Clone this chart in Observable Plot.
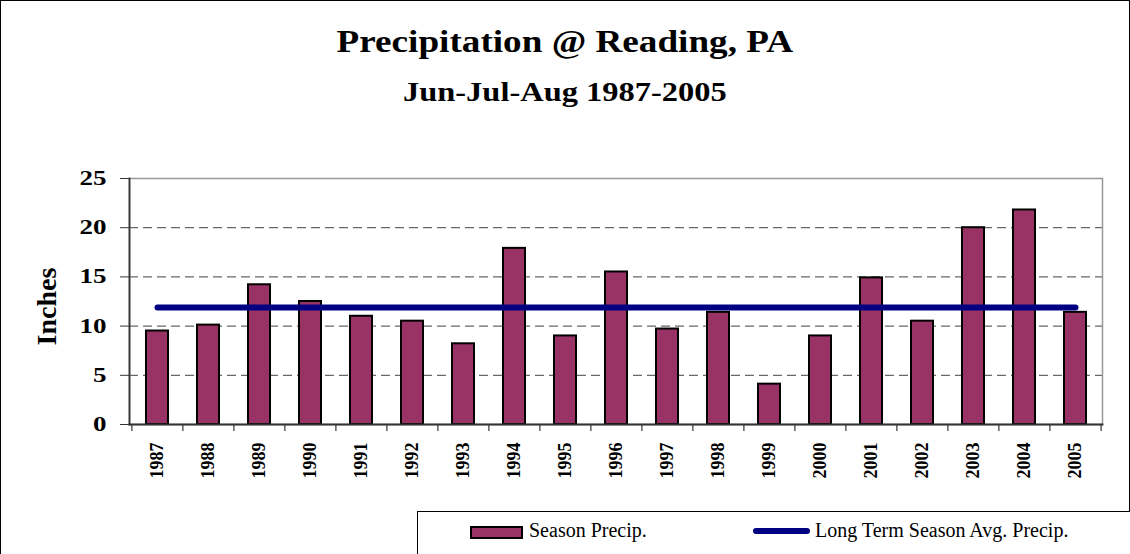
<!DOCTYPE html>
<html>
<head>
<meta charset="utf-8">
<script src="https://cdn.jsdelivr.net/npm/d3@7"></script>
<script src="https://cdn.jsdelivr.net/npm/@observablehq/plot@0.6"></script>
<style>
  html, body { margin: 0; padding: 0; background: #fff; }
  #wrap { position: relative; width: 1130px; height: 554px; overflow: hidden; background: #fff;
          font-family: "Liberation Serif", "Times New Roman", serif; box-sizing: border-box; }
  #border { position: absolute; left: 0; top: 0; width: 1128px; height: 600px; border: 1px solid #000; }
  .title { position: absolute; left: 0; width: 1130px; text-align: center; font-weight: bold; line-height: 1;
           transform: scaleX(1.18); transform-origin: 566px 0; color: #000; white-space: nowrap; }
  #chart { position: absolute; left: 0; top: 0; }
  #legend { position: absolute; left: 417px; top: 511px; width: 800px; height: 100px; border: 1px solid #000; background: #fff; }
  .lg { position: absolute; font-size: 20px; line-height: 1; color: #000; white-space: nowrap; }
</style>
</head>
<body>
<div id="wrap">
  <div id="border"></div>
  <div id="chart"></div>
  <div class="title" id="t1" style="top:26px;font-size:31.5px;"></div>
  <div class="title" id="t2" style="top:78px;font-size:27.5px;"></div>
  <div id="legend"></div>
</div>
<script>
// ---- data ----
const years = ["1987","1988","1989","1990","1991","1992","1993","1994","1995","1996",
               "1997","1998","1999","2000","2001","2002","2003","2004","2005"];
const seasonPrecip = [9.5, 10.1, 14.2, 12.5, 11.0, 10.5, 8.2, 17.9, 9.0, 15.5,
                      9.7, 11.4, 4.1, 9.0, 14.9, 10.5, 20.0, 21.8, 11.4];
const longTermAvg = 11.9;
const yTicks = [0, 5, 10, 15, 20, 25];
const gridTicks = [5, 10, 15, 20];
const titleText = "Precipitation @ Reading, PA";
const subtitleText = "Jun-Jul-Aug 1987-2005";
const yLabel = "Inches";
const seriesNames = ["Season Precip.", "Long Term Season Avg. Precip."];
const barColor = "#993366";
const lineColor = "#000080";

// ---- layout ----
const W = 1130, H = 554;
const mL = 129, mR = 28, mT = 178, mB = 130;
const step = (W - mL - mR) / years.length;

const data = years.map((y, i) => ({year: y, precip: seasonPrecip[i], avg: longTermAvg}));

const chart = Plot.plot({
  width: W, height: H,
  marginLeft: mL, marginRight: mR, marginTop: mT, marginBottom: mB,
  style: {fontFamily: "'Liberation Serif', 'Times New Roman', serif", background: "transparent", color: "#000", overflow: "visible"},
  x: {type: "band", domain: years, paddingInner: 0.57, paddingOuter: 0.285},
  y: {domain: [0, 25]},
  marks: [
    Plot.gridY(gridTicks, {stroke: "#000", strokeOpacity: 0.75, strokeWidth: 1, strokeDasharray: "9,5"}),
    Plot.frame({stroke: "#999", strokeWidth: 1.5}),
    Plot.barY(data, {x: "year", y: "precip", fill: barColor, stroke: "#000", strokeWidth: 2}),
    Plot.ruleX(years, {x: d => d, dx: -step / 2, stroke: "#333", strokeWidth: 1.2, insetTop: H - mT - mB, insetBottom: -7}),
    Plot.ruleX([years[years.length - 1]], {x: d => d, dx: step / 2, stroke: "#333", strokeWidth: 1.2, insetTop: H - mT - mB, insetBottom: -7}),
    Plot.frame({anchor: "left", stroke: "#333", strokeWidth: 1.8}),
    Plot.frame({anchor: "bottom", stroke: "#333", strokeWidth: 1.8}),
    Plot.axisY(yTicks, {tickSize: 9, tickPadding: 14, fontSize: 20, fontWeight: "bold", stroke: "#333", label: null}),
    Plot.axisX({tickSize: 0, tickRotate: -90, tickPadding: 18, fontSize: 18, fontWeight: "bold", label: null}),
    Plot.text([yLabel], {frameAnchor: "left", textAnchor: "middle", dx: -82, dy: 5, rotate: -90, fontSize: 28, fontWeight: "bold", fill: "#000"}),
    Plot.lineY(data, {x: "year", y: "avg", stroke: lineColor, strokeWidth: 6, strokeLinecap: "round"})
  ]
});
document.getElementById("chart").appendChild(chart);

// widen y tick labels horizontally like the original
d3.select(chart).selectAll('g[aria-label="y-axis tick label"] text').each(function() {
  const t = this.getAttribute("transform") || "";
  this.setAttribute("transform", t + " scale(1.35,1)");
});

document.getElementById("t1").textContent = titleText;
document.getElementById("t2").textContent = subtitleText;

// ---- legend ----
const wrap = document.getElementById("wrap");
function add(html, style) { const d = document.createElement("div"); d.innerHTML = html; Object.assign(d.style, style); wrap.appendChild(d); return d; }
add("", {position: "absolute", left: "470px", top: "526px", width: "49px", height: "9px", background: barColor, border: "2px solid #000"});
const l1 = add("", {}); l1.className = "lg"; l1.textContent = seriesNames[0]; Object.assign(l1.style, {left: "529px", top: "520px"});
add("", {position: "absolute", left: "753px", top: "528px", width: "57px", height: "6px", background: lineColor, borderRadius: "3px"});
const l2 = add("", {}); l2.className = "lg"; l2.textContent = seriesNames[1]; Object.assign(l2.style, {left: "815px", top: "520px"});
</script>
</body>
</html>
